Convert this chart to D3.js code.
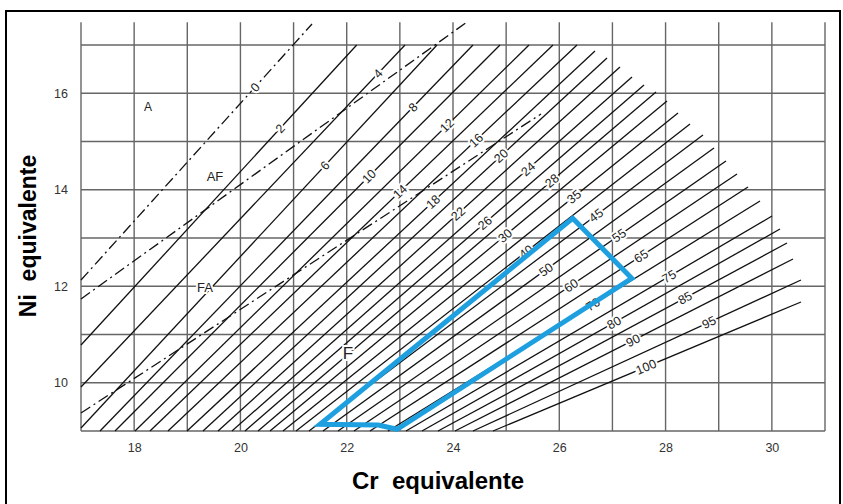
<!DOCTYPE html>
<html><head><meta charset="utf-8">
<script src="https://cdn.jsdelivr.net/npm/d3@7"></script>
<style>
body{margin:0;background:#fff;}
svg{display:block;font-family:"Liberation Sans",Arial,sans-serif;}
.title{white-space:pre;}
</style>
</head><body>
<svg id="c" width="843" height="504"></svg>
<script>
// ---- data ----
const xTicks = [18, 20, 22, 24, 26, 28, 30];
const yTicks = [10, 12, 14, 16];
const gridCr = d3.range(17, 32);
const gridNi = d3.range(9, 18);

// iso-ferrite-number lines (FN)
const fnValues   = [2, 4, 6, 8, 10, 12, 14, 16, 18, 20, 22, 24, 26, 28, 30, 35, 40, 45, 50, 55, 60, 65, 70, 75, 80, 85, 90, 95, 100];
const fnStartCr  = [17, 17, 17, 17.358, 17.640, 18.016, 18.298, 18.637, 18.995, 19.296, 19.578, 19.841, 20.086, 20.331, 20.556, 20.801, 21.046, 21.290, 21.554, 21.836, 22.137, 22.438, 22.777, 23.116, 23.417, 23.718, 24.038, 24.376, 24.753];
const fnStartNi  = [10.782, 9.912, 9.062, 9, 9, 9, 9, 9, 9, 9, 9, 9, 9, 9, 9, 9, 9, 9, 9, 9, 9, 9, 9, 9, 9, 9, 9, 9, 9];
const fnEndCr    = [22.188, 23.097, 23.699, 24.376, 24.884, 25.430, 25.882, 26.333, 26.672, 26.898, 27.142, 27.368, 27.594, 27.820, 28.027, 28.234, 28.460, 28.704, 28.911, 29.137, 29.344, 29.551, 29.777, 30.003, 30.153, 30.285, 30.398, 30.548, 30.548];
const fnEndNi    = [17, 17, 17, 17, 17, 17, 17, 17, 16.876, 16.731, 16.544, 16.337, 16.171, 16.026, 15.839, 15.591, 15.363, 15.135, 14.865, 14.596, 14.326, 14.057, 13.767, 13.456, 13.187, 12.896, 12.565, 12.130, 11.674];
const fnLabelCr  = [20.745, 22.589, 21.591, 23.247, 22.419, 23.887, 23.003, 24.433, 23.624, 24.903, 24.094, 25.411, 24.602, 25.863, 24.978, 26.277, 25.374, 26.691, 25.750, 27.124, 26.220, 27.538, 26.634, 28.064, 27.030, 28.366, 27.387, 28.817, 27.632];

// solidification-mode boundaries (dash-dot)
const bndLabel   = ["0", "", ""];
const bndStartCr = [17, 17, 17];
const bndStartNi = [12.130, 11.736, 9.373];
const bndEndCr   = [21.347, 24.263, 25.656];
const bndEndNi   = [17.435, 17.477, 15.570];
const bndLabelCr = [20.274, null, null];

// region labels
const regionNames = ["A", "AF", "FA", "F"];
const regionCr    = [18.261, 19.521, 19.333, 22.024];
const regionNi    = [15.715, 14.285, 11.984, 10.617];
const regionSize  = [12, 13, 13, 17];

// highlighted composition zone (blue)
const zoneCr = [26.252, 27.363, 22.946, 22.594, 21.497];
const zoneNi = [13.408, 12.165, 9.035, 9.124, 9.139];

// ---- drawing ----
const svg = d3.select("#c");
const x = d3.scaleLinear().domain([17, 31]).range([81, 825]);
const y = d3.scaleLinear().domain([9, 17]).range([431, 45]);
const gridTopNi = 17.47;

svg.append("rect").attr("x", 6).attr("y", 11).attr("width", 834).attr("height", 510)
  .attr("fill", "none").attr("stroke", "#000").attr("stroke-width", 2);

const grid = svg.append("g").attr("stroke", "#666").attr("stroke-width", 1.4);
grid.selectAll("line.v").data(gridCr).join("line").attr("class", "v")
  .attr("x1", d => x(d)).attr("x2", d => x(d)).attr("y1", y(9)).attr("y2", y(gridTopNi));
grid.selectAll("line.h").data(gridNi).join("line").attr("class", "h")
  .attr("x1", x(17)).attr("x2", x(31)).attr("y1", d => y(d)).attr("y2", d => y(d));

// axes
const ax = svg.append("g").attr("transform", `translate(0,${y(9)})`)
  .call(d3.axisBottom(x).tickValues(xTicks).tickSize(0).tickPadding(12).tickFormat(d3.format("d")));
ax.select(".domain").remove();
ax.selectAll("text").attr("font-size", 12.5).attr("fill", "#333").attr("font-family", "Liberation Sans, Arial, sans-serif");
const ay = svg.append("g").attr("transform", `translate(${x(17)},0)`)
  .call(d3.axisLeft(y).tickValues(yTicks).tickSize(0).tickPadding(13).tickFormat(d3.format("d")));
ay.select(".domain").remove();
ay.selectAll("text").attr("font-size", 12.5).attr("fill", "#333").attr("font-family", "Liberation Sans, Arial, sans-serif");

// FN lines
const fn = fnValues.map((v, i) => ({v, p0: [fnStartCr[i], fnStartNi[i]], p1: [fnEndCr[i], fnEndNi[i]], lc: fnLabelCr[i]}));
const line = d3.line().x(d => x(d[0])).y(d => y(d[1]));
svg.append("g").selectAll("path").data(fn).join("path")
  .attr("d", d => line([d.p0, d.p1])).attr("fill", "none").attr("stroke", "#111").attr("stroke-width", 1.3);

const bnd = bndLabel.map((l, i) => ({l, p0: [bndStartCr[i], bndStartNi[i]], p1: [bndEndCr[i], bndEndNi[i]], lc: bndLabelCr[i]}));
svg.append("g").selectAll("path").data(bnd).join("path")
  .attr("d", d => line([d.p0, d.p1])).attr("fill", "none").attr("stroke", "#111").attr("stroke-width", 1.3)
  .attr("stroke-dasharray", "11,4,2,4");

function labelPos(d) {
  const t = (d.lc - d.p0[0]) / (d.p1[0] - d.p0[0]);
  const ni = d.p0[1] + t * (d.p1[1] - d.p0[1]);
  const ang = Math.atan2(y(d.p1[1]) - y(d.p0[1]), x(d.p1[0]) - x(d.p0[0])) * 180 / Math.PI;
  return `translate(${x(d.lc)},${y(ni)}) rotate(${ang})`;
}
const labs = fn.map(d => ({...d, text: String(d.v)})).concat(bnd.filter(d => d.lc != null).map(d => ({...d, text: d.l})));
svg.append("g").selectAll("text").data(labs).join("text")
  .attr("transform", labelPos).attr("text-anchor", "middle").attr("dy", "0.35em")
  .attr("font-size", 12.5).attr("fill", "#222")
  .attr("stroke", "#fff").attr("stroke-width", 4).attr("paint-order", "stroke")
  .text(d => d.text);

// region labels
svg.append("g").selectAll("text").data(regionNames).join("text")
  .attr("x", (d, i) => x(regionCr[i])).attr("y", (d, i) => y(regionNi[i]))
  .attr("text-anchor", "middle").attr("dy", "0.35em")
  .attr("font-size", (d, i) => regionSize[i]).attr("fill", "#222")
  .attr("stroke", "#fff").attr("stroke-width", 4).attr("paint-order", "stroke")
  .text(d => d);

// blue zone
svg.append("path").datum(zoneCr.map((c, i) => [c, zoneNi[i]]))
  .attr("d", d => line(d) + "Z").attr("fill", "none").attr("stroke", "#1e9fdf")
  .attr("stroke-width", 5).attr("stroke-linejoin", "miter");

// axis titles
svg.append("text").attr("class", "title").attr("transform", "translate(36,236) rotate(-90)")
  .attr("text-anchor", "middle").attr("font-size", 23).attr("font-weight", "bold").attr("fill", "#000")
  .text("Ni  equivalente");
svg.append("text").attr("class", "title").attr("x", 438).attr("y", 489)
  .attr("text-anchor", "middle").attr("font-size", 24).attr("font-weight", "bold").attr("fill", "#000")
  .text("Cr  equivalente");
</script>
</body></html>
